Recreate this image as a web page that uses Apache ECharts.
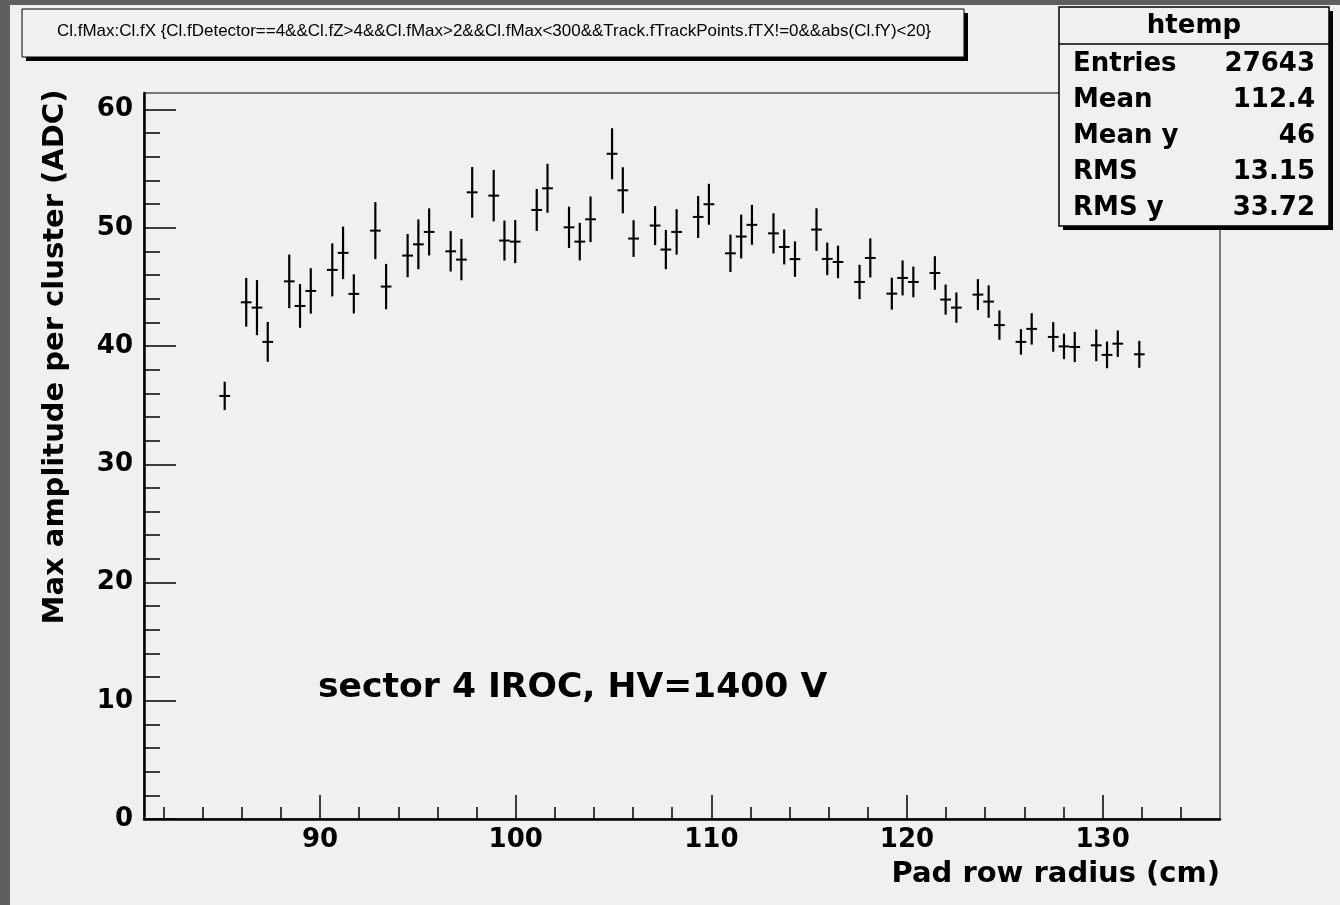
<!DOCTYPE html>
<html><head><meta charset="utf-8">
<script src="https://cdn.jsdelivr.net/npm/echarts@6/dist/echarts.min.js"></script>
<style>html,body{margin:0;padding:0;background:#f0f0f0;overflow:hidden}#c{width:1340px;height:905px}</style>
</head><body><div id="c"></div>
<script>
// ---- data ----
const padRadius = [85.125, 86.225, 86.775, 87.325, 88.425, 88.975, 89.525, 90.625, 91.175, 91.725,
  92.825, 93.375, 94.475, 95.025, 95.575, 96.675, 97.225, 97.775, 98.875, 99.425, 99.975,
  101.075, 101.625, 102.725, 103.275, 103.825, 104.925, 105.475, 106.025, 107.125, 107.675, 108.225,
  109.325, 109.875, 110.975, 111.525, 112.075, 113.175, 113.725, 114.275, 115.375, 115.925, 116.475,
  117.575, 118.125, 119.225, 119.775, 120.325, 121.425, 121.975, 122.525, 123.625, 124.175, 124.725,
  125.825, 126.375, 127.475, 128.025, 128.575, 129.675, 130.225, 130.775, 131.875];
const maxAmp = [35.78, 43.70, 43.25, 40.35, 45.47, 43.39, 44.66, 46.44, 47.88, 44.41,
  49.76, 45.03, 47.65, 48.60, 49.65, 48.01, 47.31, 53.00, 52.72, 48.92, 48.83,
  51.51, 53.34, 50.04, 48.83, 50.72, 56.26, 53.17, 49.09, 50.19, 48.16, 49.65,
  50.92, 51.99, 47.84, 49.26, 50.25, 49.53, 48.38, 47.35, 49.85, 47.37, 47.11,
  45.42, 47.45, 44.43, 45.76, 45.42, 46.18, 43.93, 43.25, 44.35, 43.76, 41.77,
  40.35, 41.45, 40.77, 39.97, 39.92, 40.06, 39.25, 40.20, 39.30];
const ampErr = [1.20, 2.06, 2.33, 1.68, 2.27, 1.85, 1.92, 2.24, 2.22, 1.66,
  2.41, 1.92, 1.83, 2.11, 1.99, 1.71, 1.75, 2.14, 2.18, 1.69, 1.82,
  1.78, 2.07, 1.75, 1.59, 1.93, 2.16, 1.95, 1.55, 1.65, 1.66, 1.92,
  1.78, 1.73, 1.58, 1.85, 1.69, 1.70, 1.48, 1.50, 1.80, 1.38, 1.38,
  1.45, 1.65, 1.35, 1.48, 1.30, 1.42, 1.27, 1.28, 1.31, 1.37, 1.24,
  1.08, 1.33, 1.25, 1.08, 1.28, 1.34, 1.13, 1.12, 1.14];
const binWidth = 0.55;
const xTickValues = [90, 100, 110, 120, 130];
const xMinorTickValues = [82, 84, 86, 88, 92, 94, 96, 98, 102, 104, 106, 108, 112, 114, 116, 118, 122, 124, 126, 128, 132, 134];
const yTickValues = [0, 10, 20, 30, 40, 50, 60];
const yMinorTickValues = [2, 4, 6, 8, 12, 14, 16, 18, 22, 24, 26, 28, 32, 34, 36, 38, 42, 44, 46, 48, 52, 54, 56, 58];
const xRange = [81, 136];
const yRange = [0, 61.4];
const titleText = 'Cl.fMax:Cl.fX {Cl.fDetector==4&&Cl.fZ>4&&Cl.fMax>2&&Cl.fMax<300&&Track.fTrackPoints.fTX!=0&&abs(Cl.fY)<20}';
const statsTitle = 'htemp';
const statsLabels = ['Entries', 'Mean', 'Mean y', 'RMS', 'RMS y'];
const statsValues = ['27643', '112.4', '46', '13.15', '33.72'];
const xTitle = 'Pad row radius (cm)';
const yTitle = 'Max amplitude per cluster (ADC)';
const noteText = 'sector 4 IROC, HV=1400 V';

// ---- layout ----
const BG = '#f0f0f0';
const boldFont = (s) => 'bold ' + s + 'px "DejaVu Sans"';
const labelStyle = {fontFamily: 'DejaVu Sans', fontWeight: 'bold', fontSize: 26, color: '#000'};

const mc = document.createElement('canvas').getContext('2d');
const titleFont = '17px "Liberation Sans"';
mc.font = titleFont;
const titleScale = 874 / mc.measureText(titleText).width;

const data = padRadius.map((x, i) => [x, maxAmp[i], ampErr[i]]);

const graphic = [
  {type: 'rect', shape: {x: 0, y: 0, width: 10, height: 905}, style: {fill: '#5f5f5f'}, silent: true},
  {type: 'rect', shape: {x: 0, y: 0, width: 1340, height: 5}, style: {fill: '#5f5f5f'}, silent: true},
  // title box
  {type: 'rect', shape: {x: 26, y: 13, width: 942, height: 48}, style: {fill: '#000'}},
  {type: 'rect', shape: {x: 22, y: 9, width: 942, height: 48}, style: {fill: BG, stroke: '#000', lineWidth: 1}},
  {type: 'text', x: 494, y: 31, scaleX: titleScale, style: {text: titleText, font: titleFont, fill: '#000', align: 'center', verticalAlign: 'middle'}},
  // stats box
  {type: 'rect', shape: {x: 1063, y: 11, width: 270, height: 219}, style: {fill: '#000'}},
  {type: 'rect', shape: {x: 1059, y: 7, width: 270, height: 219}, style: {fill: BG, stroke: '#000', lineWidth: 1.5}},
  {type: 'line', shape: {x1: 1059, y1: 44, x2: 1329, y2: 44}, style: {stroke: '#000', lineWidth: 1.5}},
  {type: 'text', x: 1194, y: 26, style: {text: statsTitle, font: boldFont(26), fill: '#000', align: 'center', verticalAlign: 'middle'}},
  // axis titles and note
  {type: 'text', x: 1220, y: 874, style: {text: xTitle, font: boldFont(29), fill: '#000', align: 'right', verticalAlign: 'middle'}},
  {type: 'text', x: 55, y: 357, rotation: Math.PI / 2, style: {text: yTitle, font: boldFont(29), fill: '#000', align: 'center', verticalAlign: 'middle'}},
  {type: 'text', x: 318, y: 688, style: {text: noteText, font: boldFont(34.6), fill: '#000', align: 'left', verticalAlign: 'middle'}}
];
statsLabels.forEach((l, i) => {
  const y = 64 + i * 36;
  graphic.push({type: 'text', x: 1073, y: y, style: {text: l, font: boldFont(26), fill: '#000', align: 'left', verticalAlign: 'middle'}});
  graphic.push({type: 'text', x: 1315, y: y, style: {text: statsValues[i], font: boldFont(26), fill: '#000', align: 'right', verticalAlign: 'middle'}});
});

const chart = echarts.init(document.getElementById('c'), null, {renderer: 'canvas'});
chart.setOption({
  backgroundColor: BG,
  animation: false,
  grid: {left: 144, top: 93, right: 120, bottom: 86, show: true, backgroundColor: BG, borderColor: '#000', borderWidth: 1, containLabel: false},
  xAxis: [
    {type: 'value', min: xRange[0], max: xRange[1], position: 'bottom',
      axisLine: {show: true, onZero: false, lineStyle: {color: '#000', width: 2.5}},
      axisTick: {show: true, inside: true, length: 24, customValues: xTickValues, lineStyle: {color: '#000', width: 1.5}},
      axisLabel: Object.assign({customValues: xTickValues, margin: 8}, labelStyle),
      splitLine: {show: false}},
    {type: 'value', min: xRange[0], max: xRange[1], position: 'bottom',
      axisLine: {show: false, onZero: false},
      axisTick: {show: true, inside: true, length: 12, customValues: xMinorTickValues, lineStyle: {color: '#000', width: 1.5}},
      axisLabel: {show: false}, splitLine: {show: false}}
  ],
  yAxis: [
    {type: 'value', min: yRange[0], max: yRange[1], position: 'left',
      axisLine: {show: true, onZero: false, lineStyle: {color: '#000', width: 2.5}},
      axisTick: {show: true, inside: true, length: 32, customValues: yTickValues, lineStyle: {color: '#000', width: 1.5}},
      axisLabel: Object.assign({customValues: yTickValues, margin: 11}, labelStyle),
      splitLine: {show: false}},
    {type: 'value', min: yRange[0], max: yRange[1], position: 'left',
      axisLine: {show: false, onZero: false},
      axisTick: {show: true, inside: true, length: 16, customValues: yMinorTickValues, lineStyle: {color: '#000', width: 1.5}},
      axisLabel: {show: false}, splitLine: {show: false}}
  ],
  series: [{
    type: 'custom', xAxisIndex: 0, yAxisIndex: 0, data: data, clip: false,
    encode: {x: 0, y: 1},
    renderItem: function (params, api) {
      const x = api.value(0), y = api.value(1), e = api.value(2);
      const t = api.coord([x, y + e]), b = api.coord([x, y - e]);
      const l = api.coord([x - binWidth / 2, y]), r = api.coord([x + binWidth / 2, y]);
      return {type: 'group', children: [
        {type: 'line', shape: {x1: t[0], y1: t[1], x2: b[0], y2: b[1]}, style: {stroke: '#000', lineWidth: 2.2}},
        {type: 'line', shape: {x1: l[0], y1: l[1], x2: r[0], y2: r[1]}, style: {stroke: '#000', lineWidth: 2}}
      ]};
    }
  }],
  graphic: graphic
});
</script>
</body></html>
